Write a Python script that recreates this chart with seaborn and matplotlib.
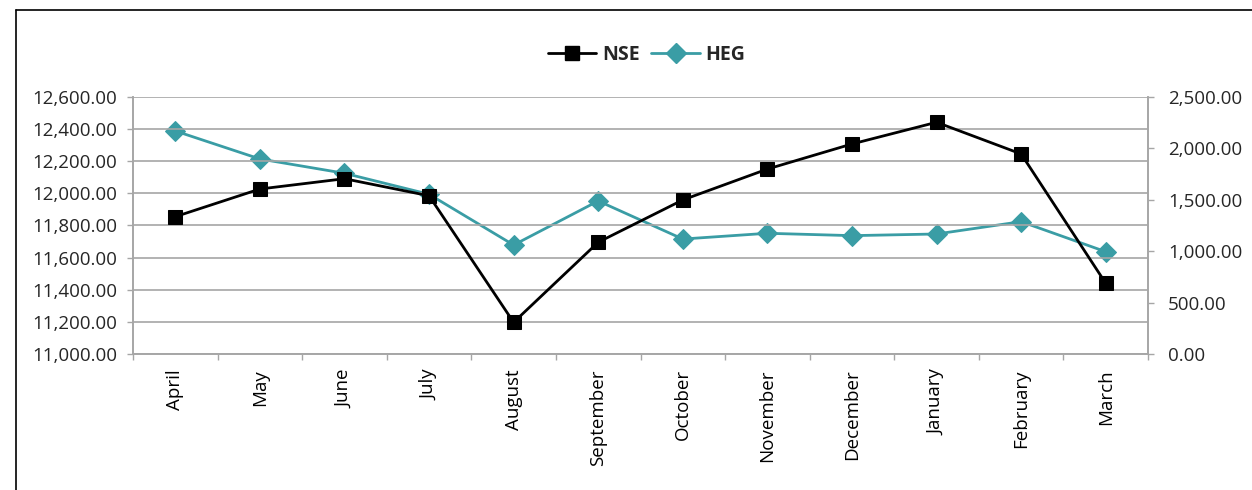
import matplotlib
matplotlib.use("Agg")
import matplotlib.pyplot as plt
import seaborn as sns
import pandas as pd
from matplotlib.ticker import FuncFormatter, FixedLocator
from matplotlib.lines import Line2D

months = ["April", "May", "June", "July", "August", "September", "October",
          "November", "December", "January", "February", "March"]
nse = [11854, 12026, 12090, 11984, 11197, 11695, 11958, 12150, 12306, 12441, 12244, 11440]
heg = [2167, 1895, 1756, 1552, 1059, 1487, 1117, 1173, 1150, 1166, 1286, 994]
left_ticks = [11000, 11200, 11400, 11600, 11800, 12000, 12200, 12400, 12600]
right_ticks = [0, 500, 1000, 1500, 2000, 2500]

sns.set_theme(style="white")
plt.rcParams['font.family'] = ['Open Sans', 'DejaVu Sans']

df = pd.DataFrame({"month": months, "NSE": nse, "HEG": heg, "pos": range(len(months))})

fig = plt.figure(figsize=(12.52, 4.9), dpi=100)
ax = fig.add_axes([133/1252, 1-354/490, (1148-133)/1252, (354-96.7)/490])
ax2 = ax.twinx()

grid_c = "#A6A6A6"
teal = "#3A9DA5"

sns.lineplot(data=df, x="pos", y="NSE", ax=ax, color="black", marker="s",
             markersize=10.5, linewidth=2, markeredgecolor="black", sort=False, zorder=3)
sns.lineplot(data=df, x="pos", y="HEG", ax=ax2, color=teal, marker="D",
             markersize=10, linewidth=2, markeredgecolor=teal, sort=False, zorder=3)

ax.set_xlim(-0.5, len(months) - 0.5)
ax.set_ylim(11000, 12600)
ax2.set_ylim(0, 2500)

ax.yaxis.set_major_locator(FixedLocator(left_ticks))
ax2.yaxis.set_major_locator(FixedLocator(right_ticks))
fmt = FuncFormatter(lambda v, p: f"{v:,.2f}")
ax.yaxis.set_major_formatter(fmt)
ax2.yaxis.set_major_formatter(fmt)

ax.set_xticks(range(len(months)))
ax.set_xticklabels(months, rotation=90, fontsize=13.5)
ax.set_xticks([i - 0.5 for i in range(len(months) + 1)], minor=True)
ax.tick_params(axis="x", which="major", length=0, pad=11, colors="black")
ax.tick_params(axis="x", which="minor", length=4.5, width=1, color=grid_c, direction="out", bottom=True)
ax.tick_params(axis="y", which="major", length=4.5, width=1, color=grid_c, left=True, labelsize=13.5, pad=7)
ax2.tick_params(axis="y", which="major", length=4.5, width=1, color=grid_c, right=True, labelsize=13.5, pad=10)

ax.yaxis.grid(True, color=grid_c, linewidth=1.2)
ax.xaxis.grid(False)
ax2.grid(False)
ax.set_xlabel("")
ax.set_ylabel("")
ax2.set_ylabel("")

for a in (ax, ax2):
    a.spines["top"].set_visible(False)
    for s in ["left", "right", "bottom"]:
        a.spines[s].set_color(grid_c)
        a.spines[s].set_linewidth(1.2)

ax.set_zorder(ax2.get_zorder() + 1)
ax.patch.set_visible(False)

handles = [
    Line2D([0], [0], color="black", marker="s", markersize=10, linewidth=2),
    Line2D([0], [0], color=teal, marker="D", markersize=10, linewidth=2),
]
fig.legend(handles, ["NSE", "HEG"], loc="center", bbox_to_anchor=(0.5164, 1-55/490),
           ncol=2, frameon=False, handlelength=2.5, columnspacing=0.6, handletextpad=0.3,
           prop={"weight": "bold", "size": 14})

# outer frame
fig.add_artist(Line2D([16/1252, 16/1252], [0, 1-10/490], color="black", linewidth=1.2, transform=fig.transFigure))
fig.add_artist(Line2D([16/1252, 1], [1-10/490, 1-10/490], color="black", linewidth=1.2, transform=fig.transFigure))

fig.savefig("out.png", dpi=100)
